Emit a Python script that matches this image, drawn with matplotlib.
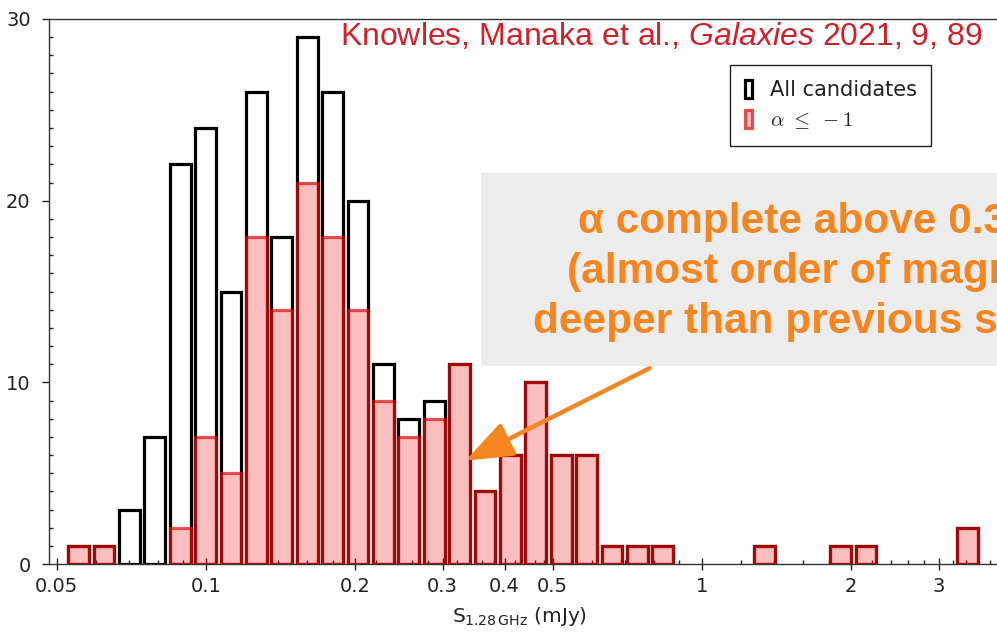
import numpy as np
import matplotlib
matplotlib.use("Agg")
import matplotlib.pyplot as plt
from matplotlib.font_manager import FontProperties
from matplotlib.patches import Rectangle, FancyArrowPatch
from matplotlib.ticker import NullFormatter

# --- histogram data: 36 logarithmic flux-density bins ---
bin_low, bin_high, n_bins = 0.0522, 3.64, 36
all_counts = [1, 1, 3, 7, 22, 24, 15, 26, 18, 29, 26, 20, 11, 8, 9, 11, 4, 6,
              10, 6, 6, 1, 1, 1, 0, 0, 0, 1, 0, 0, 1, 1, 0, 0, 0, 2]
steep_counts = [1, 1, 0, 0, 2, 7, 5, 18, 14, 21, 18, 14, 9, 7, 8, 11, 4, 6,
                10, 6, 6, 1, 1, 1, 0, 0, 0, 1, 0, 0, 1, 1, 0, 0, 0, 2]

major_ticks = [0.05, 0.1, 0.2, 0.3, 0.4, 0.5, 1, 2, 3]
major_labels = ["0.05", "0.1", "0.2", "0.3", "0.4", "0.5", "1", "2", "3"]
minor_ticks = [0.06, 0.07, 0.08, 0.09,
               0.12, 0.14, 0.16, 0.18, 0.22, 0.24, 0.26, 0.28,
               0.32, 0.34, 0.36, 0.38, 0.42, 0.44, 0.46, 0.48,
               0.6, 0.7, 0.8, 0.9, 1.2, 1.4, 1.6, 1.8,
               2.2, 2.4, 2.6, 2.8, 3.2, 3.4, 3.6, 3.8]

series_labels = ["All candidates", r"$\alpha\ \leq\ -1$"]
citation = r"Knowles, Manaka et al., $\mathit{Galaxies}$ 2021, 9, 89"
note_lines = ["\u03b1 complete above 0.3 mJy",
              "(almost order of magnitude",
              "deeper than previous surveys)"]

plt.rcParams["mathtext.rm"] = "Liberation Sans"
plt.rcParams["mathtext.it"] = "Liberation Sans:italic"

W, H = 997, 632
fig = plt.figure(figsize=(W / 100, H / 100), dpi=100)
ax = fig.add_axes([48.8 / W, 68 / H, (1000.6 - 48.8) / W, 545 / H])
ax.set_xscale("log")
ax.set_xlim(0.0482, 4.0)
ax.set_ylim(0, 30)

# bar geometry in log space, bars centred in their bins
edges = np.logspace(np.log10(bin_low), np.log10(bin_high), n_bins + 1)
loge = np.log10(edges)
dlog = loge[1] - loge[0]
rw = 0.82
lefts = 10 ** (loge[:-1] + (1 - rw) / 2 * dlog)
rights = 10 ** (loge[:-1] + (1 + rw) / 2 * dlog)
widths = rights - lefts

all_c = np.array(all_counts)
st_c = np.array(steep_counts)
m_all = all_c > 0
m_st = st_c > 0

bars_all = ax.bar(lefts[m_all], all_c[m_all], width=widths[m_all], align="edge",
                  facecolor="none", edgecolor="black", linewidth=2.3, zorder=2,
                  label=series_labels[0])
bars_st = ax.bar(lefts[m_st], st_c[m_st], width=widths[m_st], align="edge",
                 facecolor=(0.92, 0.08, 0.08, 0.27),
                 edgecolor=(0.85, 0.05, 0.05, 0.7), linewidth=2.3, zorder=3,
                 label=series_labels[1])

# axes styling
for side in ("left", "bottom", "top"):
    ax.spines[side].set_color("#333333")
    ax.spines[side].set_linewidth(1.0)
ax.spines["right"].set_visible(False)

ax.set_xticks(major_ticks)
ax.set_xticklabels(major_labels)
ax.set_xticks(minor_ticks, minor=True)
ax.xaxis.set_minor_formatter(NullFormatter())
ax.set_yticks([0, 10, 20, 30])
ax.set_yticks(np.arange(0, 31, 1), minor=True)

ax.tick_params(axis="x", which="major", direction="inout", length=8, width=1,
               labelsize=14, pad=5, colors="#222222")
ax.tick_params(axis="x", which="minor", direction="in", length=3, width=1,
               colors="#222222")
ax.tick_params(axis="y", which="major", direction="out", length=5, width=1,
               labelsize=14, pad=8, colors="#222222")
ax.tick_params(axis="y", which="minor", direction="in", length=3, width=1,
               colors="#222222")

ax.set_xlabel(r"S$_{\mathrm{1.28\,GHz}}$ (mJy)", fontsize=14.5, color="#222222")
ax.xaxis.set_label_coords((520 - 48.8) / (1000.6 - 48.8), -(605 - 564) / 545)
ax.xaxis.label.set_verticalalignment("top")

leg_prop = FontProperties(family="DejaVu Sans", size=15, math_fontfamily="cm")
leg = ax.legend(handles=[bars_all.patches[0], bars_st.patches[0]],
                labels=series_labels, loc="upper left",
                bbox_to_anchor=(730 / W, 1 - 65 / H),
                bbox_transform=fig.transFigure, prop=leg_prop,
                frameon=True, fancybox=False, framealpha=1, borderaxespad=0,
                handlelength=0.35, handleheight=0.95, handletextpad=0.85,
                borderpad=0.7, labelspacing=0.5)
leg.get_frame().set_edgecolor("#222222")
leg.get_frame().set_linewidth(1.0)
for t in leg.get_texts():
    t.set_color("#222222")

# citation line
fig.text(340 / W, 1 - 45 / H, citation, fontsize=23, color="#D0202A",
         family="Liberation Sans", math_fontfamily="custom", va="baseline")

# highlighted note with arrow
orange = "#F5861F"
fig.add_artist(Rectangle((481 / W, 1 - 366 / H), 1.0, (366 - 173) / H,
                         transform=fig.transFigure, facecolor="#ECECEC",
                         edgecolor="none", zorder=4))
for line, base in zip(note_lines, [233, 283, 333]):
    fig.text(841 / W, 1 - base / H, line, fontsize=30.5, fontweight="bold",
             family="Liberation Sans", color=orange, ha="center",
             va="baseline", zorder=5)

arrow = FancyArrowPatch((652 / W, 1 - 367 / H), (463 / W, 1 - 462 / H),
                        transform=fig.transFigure,
                        arrowstyle="-|>,head_length=1.45,head_width=0.55",
                        mutation_scale=20, linewidth=3.2, color=orange,
                        zorder=6)
fig.add_artist(arrow)

fig.savefig("out.png", dpi=100)
